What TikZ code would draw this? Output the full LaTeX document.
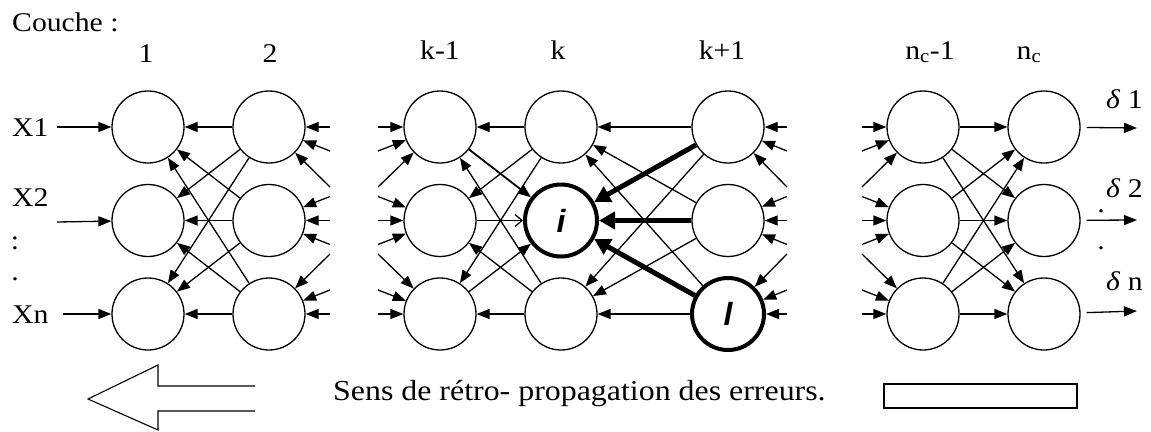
\documentclass[tikz,border=0pt]{standalone}
\usepackage{fontspec}
\usepackage{graphicx}
\setmainfont{Liberation Serif}[FakeStretch=1.1]
\newfontfamily\hotfont{Liberation Sans}
\usetikzlibrary{arrows.meta}
\begin{document}
\begin{tikzpicture}[x=1pt,y=-1pt,
  neuron/.style={circle,draw,line width=1.3pt,minimum size=72pt,inner sep=0pt},
  hot/.style={circle,draw,line width=4pt,minimum size=72pt,inner sep=0pt,
    font=\hotfont\bfseries\itshape\fontsize{32}{32}\selectfont},
  arr/.style={line width=1.3pt,-{Triangle[length=13pt,width=10pt]}},
  barb/.style={line width=1.3pt,-{Straight Barb[length=7pt,width=12pt,line width=1.3pt]}},
  thickarr/.style={line width=5pt,-{Triangle[length=16pt,width=17pt]}},
  lbl/.style={font=\fontsize{27}{27}\selectfont,inner sep=0pt},
  outline/.style={line width=1.1pt}
]
\useasboundingbox (0,0) rectangle (1151,431);

% ---------- neurons ----------
\foreach \c/\x in {a/148,b/269,p/440,u/923,v/1044}{
  \foreach \r/\y in {1/127,2/220.5,3/314}{
    \node[neuron] (\c\r) at (\x,\y) {};
  }
}
\node[neuron] (q1) at (561,127) {};
\node[hot]    (q2) at (561,220.5) {i};
\node[neuron] (q3) at (561,314) {};
\node[neuron] (s1) at (728,127) {};
\node[neuron] (s2) at (728,220.5) {};
\node[hot]    (s3) at (728,314) {l};

% ---------- labels ----------
\node[lbl,anchor=base west] (couche) at (12,31) {Couche :};
\node[lbl,anchor=base] (l1) at (146,62) {1};
\node[lbl,anchor=base] (l2) at (270,62) {2};
\node[lbl,anchor=base] (lk1) at (440,59) {k-1};
\node[lbl,anchor=base] (lk) at (558,59) {k};
\node[lbl,anchor=base] (lkp) at (722,59) {k+1};
\node[lbl,anchor=base] (ln1) at (930,59) {n\textsubscript{c}-1};
\node[lbl,anchor=base] (ln) at (1029,59) {n\textsubscript{c}};

% ---------- inputs ----------
\node[lbl,anchor=base west] (x1) at (12,136) {X1};
\node[lbl,anchor=base west] (x2) at (12,206) {X2};
\node[lbl] (dd1) at (15,243) {:};
\node[lbl] (dd2) at (15,279) {.};
\node[lbl,anchor=base west] (xn) at (12,323) {Xn};
\coordinate (i1) at (57,127);
\coordinate (i2) at (57,222);
\coordinate (i3) at (63,314);
\draw[arr] (i1) -- (a1);
\draw[arr] (i2) -- (a2);
\draw[arr] (i3) -- (a3);

% ---------- outputs ----------
\node[lbl,anchor=base west] (d1) at (1106,108) {\textit{δ} 1};
\node[lbl,anchor=base west] (d2) at (1106,197) {\textit{δ} 2};
\node[lbl] (od1) at (1101,211) {.};
\node[lbl] (od2) at (1101,248) {.};
\node[lbl,anchor=base west] (dn) at (1106,290) {\textit{δ} n};
\coordinate (o1) at (1137,128);
\coordinate (o2) at (1137,220);
\coordinate (o3) at (1137,311);
\draw[arr,shorten <=6pt] (v1) -- (o1);
\draw[arr,shorten <=6pt] (v2) -- (o2);
\draw[arr,shorten <=6pt] (v3) -- (o3);

% ---------- layer 1 <- layer 2 ; layer nc-1 -> nc ----------
\foreach \r in {1,2,3}{
  \foreach \t in {1,2,3}{
    \draw[arr] (b\r) -- (a\t);
    \draw[arr] (u\r) -- (v\t);
  }
}

% ---------- stubs into the gaps ----------
\foreach \r in {1,2,3}{
  \foreach \t in {1,2,3}{
    \pgfmathsetmacro{\yy}{127+(\r-1)*93.5+(\t-\r)*(abs(\t-\r)>1.5 ? 30 : 24)}
    \coordinate (bs\r\t) at (330,\yy);
    \coordinate (ps\r\t) at (378,\yy);
    \coordinate (ss\r\t) at (787,\yy);
    \coordinate (us\r\t) at (862,\yy);
    \draw[arr] (bs\r\t) -- (b\r);
    \draw[arr] (ps\r\t) -- (p\r);
    \draw[arr] (ss\r\t) -- (s\r);
    \draw[arr] (us\r\t) -- (u\r);
  }
}

% ---------- layer k-1 <-> k ----------
\draw[arr] (q1) -- (p1);
\draw[arr] (q1) -- (p2);
\draw[arr] (q1) -- (p3);
\draw[arr] (q3) -- (p1);
\draw[arr] (q3) -- (p2);
\draw[arr] (q3) -- (p3);
\draw[arr,line width=1.8pt] (p1) -- (q2);
\draw[barb] (p2) -- (q2);
\draw[arr] (p3) -- (q2);

% ---------- layer k <- k+1 ----------
\draw[arr] (s1) -- (q1);
\draw[arr] (s2) -- (q1);
\draw[arr] (s3) -- (q1);
\draw[arr] (s1) -- (q3);
\draw[arr] (s2) -- (q3);
\draw[arr] (s3) -- (q3);
\draw[thickarr] (s1) -- (q2);
\draw[thickarr] (s2) -- (q2);
\draw[thickarr] (s3) -- (q2);

% ---------- bottom: direction of back-propagation ----------
\draw[outline] (255,386) -- (158,386) -- (158,365) -- (88,399) -- (158,430) -- (158,411) -- (255,411);
\node[font=\fontsize{29}{29}\selectfont,inner sep=0pt,anchor=base west] (sens) at (333,400)
  {Sens de rétro- propagation des erreurs.};
\draw[outline] (884,384) rectangle (1077,408);
\end{tikzpicture}
\end{document}
